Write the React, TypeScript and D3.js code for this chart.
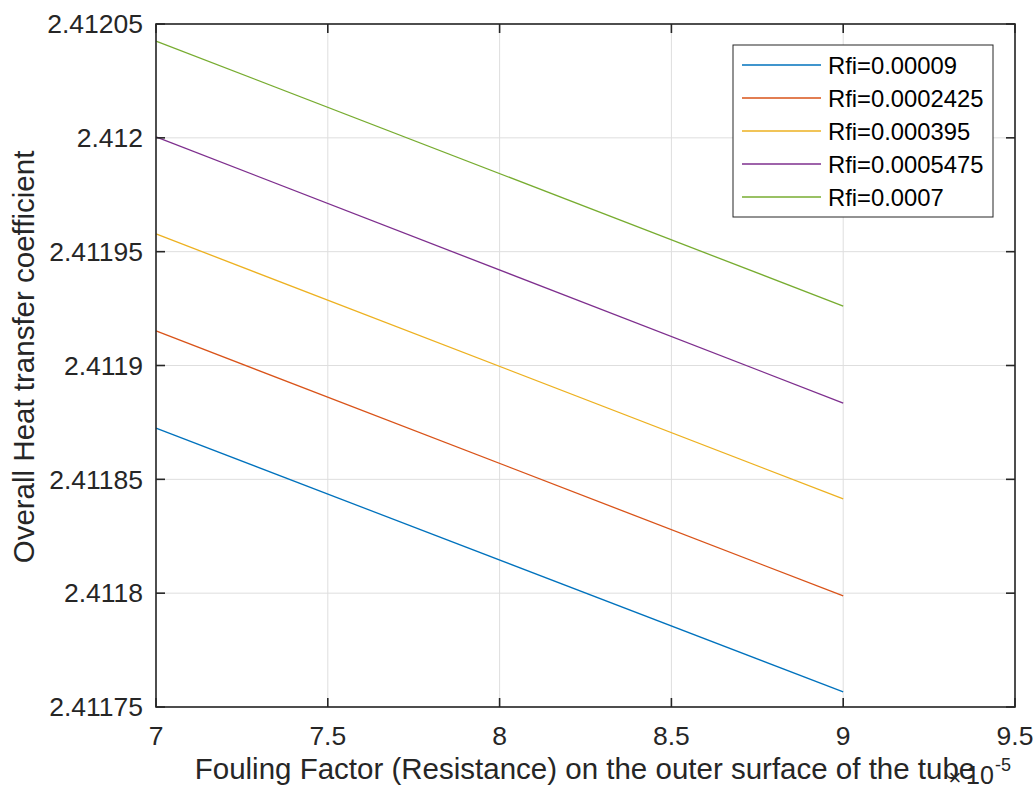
import React from "react";
import * as d3 from "d3";

const xValues = [7e-5, 9e-5];
const seriesNames = ["Rfi=0.00009", "Rfi=0.0002425", "Rfi=0.000395", "Rfi=0.0005475", "Rfi=0.0007"];
const blue = [2.4118725, 2.4117566];
const orange = [2.4119152, 2.4117988];
const yellow = [2.4119578, 2.4118414];
const purple = [2.4120004, 2.4118835];
const green = [2.4120425, 2.4119261];
const seriesValues = [blue, orange, yellow, purple, green];
const colors = ["#0072BD", "#D95319", "#EDB120", "#7E2F8E", "#77AC30"];
const xTicks = [7e-5, 7.5e-5, 8e-5, 8.5e-5, 9e-5, 9.5e-5];
const xTickLabels = ["7", "7.5", "8", "8.5", "9", "9.5"];
const yTicks = [2.41175, 2.4118, 2.41185, 2.4119, 2.41195, 2.412, 2.41205];
const yTickLabels = ["2.41175", "2.4118", "2.41185", "2.4119", "2.41195", "2.412", "2.41205"];

export default function App() {
  const L = 156, R = 1015, T = 24, B = 707;
  const x = d3.scaleLinear().domain([7e-5, 9.5e-5]).range([L, R]);
  const y = d3.scaleLinear().domain([2.41175, 2.41205]).range([B, T]);
  const line = d3.line<number>().x((_, i) => x(xValues[i])).y((d) => y(d));
  const font = "'Liberation Sans', Arial, sans-serif";
  const txt = "#262626";
  const tickLen = 9;
  const legX = 733, legY = 45, legW = 260, legH = 172, rowH = 33;
  return (
    <svg width={1035} height={790} style={{ position: "absolute", left: 0, top: 0, background: "#fff" }} fontFamily={font}>
      <rect x={0} y={0} width={1035} height={790} fill="#fff" />
      {xTicks.map((t, i) => (
        <line key={"gx" + i} x1={x(t)} x2={x(t)} y1={T} y2={B} stroke="#dedede" strokeWidth={1} />
      ))}
      {yTicks.map((t, i) => (
        <line key={"gy" + i} x1={L} x2={R} y1={y(t)} y2={y(t)} stroke="#dedede" strokeWidth={1} />
      ))}
      {seriesValues.map((s, i) => (
        <path key={"s" + i} d={line(s) || ""} fill="none" stroke={colors[i]} strokeWidth={1.3} />
      ))}
      <rect x={L} y={T} width={R - L} height={B - T} fill="none" stroke="#262626" strokeWidth={1.6} />
      {xTicks.map((t, i) => (
        <g key={"tx" + i}>
          <line x1={x(t)} x2={x(t)} y1={B} y2={B - tickLen} stroke="#262626" strokeWidth={1.6} />
          <line x1={x(t)} x2={x(t)} y1={T} y2={T + tickLen} stroke="#262626" strokeWidth={1.6} />
          <text x={x(t)} y={745} textAnchor="middle" fontSize={26.5} fill={txt}>{xTickLabels[i]}</text>
        </g>
      ))}
      {yTicks.map((t, i) => (
        <g key={"ty" + i}>
          <line x1={L} x2={L + tickLen} y1={y(t)} y2={y(t)} stroke="#262626" strokeWidth={1.6} />
          <line x1={R} x2={R - tickLen} y1={y(t)} y2={y(t)} stroke="#262626" strokeWidth={1.6} />
          <text x={143} y={y(t)} dy="0.35em" textAnchor="end" fontSize={26.5} fill={txt}>{yTickLabels[i]}</text>
        </g>
      ))}
      <text x={585} y={779} textAnchor="middle" fontSize={29.5} fill={txt}>Fouling Factor (Resistance) on the outer surface of the tube</text>
      <text transform={`translate(34,357) rotate(-90)`} textAnchor="middle" fontSize={29.5} fill={txt}>Overall Heat transfer coefficient</text>
      <text x={955} y={785} textAnchor="middle" fontSize={22} fill={txt}>×</text>
      <text x={966} y={784} fontSize={25} fill={txt}>10</text>
      <text x={995} y={771} fontSize={18} fill={txt}>-5</text>
      <rect x={legX} y={legY} width={legW} height={legH} fill="#fff" stroke="#262626" strokeWidth={1} />
      {seriesNames.map((n, i) => {
        const cy = legY + 20 + i * rowH;
        return (
          <g key={"l" + i}>
            <line x1={742} x2={821} y1={cy} y2={cy} stroke={colors[i]} strokeWidth={1.3} />
            <text x={828} y={cy} dy="0.36em" fontSize={23.8} fill="#000">{n}</text>
          </g>
        );
      })}
    </svg>
  );
}
